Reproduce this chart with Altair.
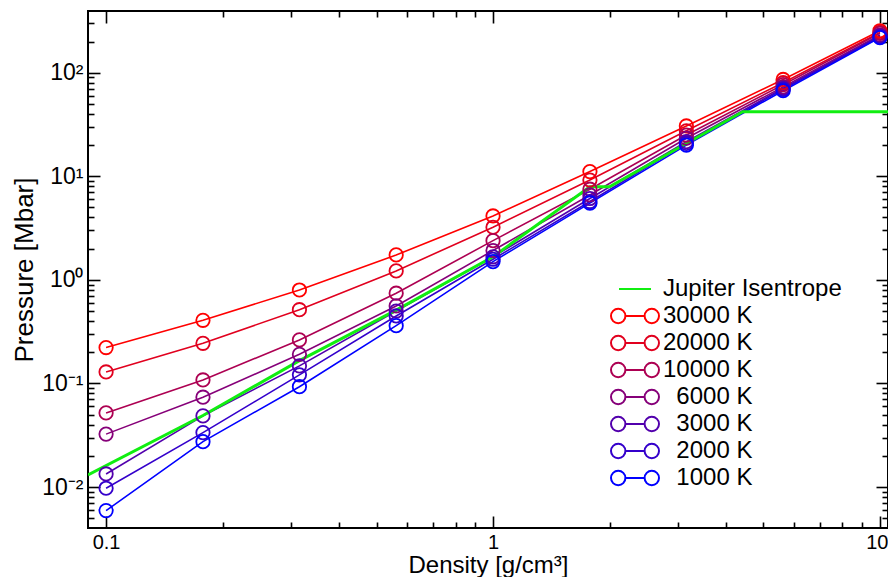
import altair as alt
import pandas as pd

FONT = "Liberation Sans"
W, H = 800, 517

# ---------------- data ----------------
PAD = "\u2060\u2007"  # invisible joiner + figure space keeps the 4-digit labels right-aligned
density = [0.1, 0.178, 0.316, 0.562, 1.0, 1.78, 3.16, 5.62, 10.0]
temps = ["30000 K", "20000 K", "10000 K", PAD + "6000 K", PAD + "3000 K", PAD + "2000 K", PAD + "1000 K"]
p_30000 = [0.222, 0.407, 0.798, 1.74, 4.14, 11.1, 30.6, 86, 254]
p_20000 = [0.129, 0.244, 0.515, 1.22, 3.22, 9.2, 27.5, 80, 245]
p_10000 = [0.0519, 0.108, 0.263, 0.743, 2.39, 7.5, 25, 76.6, 240]
p_6000 = [0.0324, 0.0736, 0.191, 0.56, 1.92, 6.6, 23.3, 73, 231]
p_3000 = [0.01337, 0.0486, 0.1476, 0.50, 1.67, 6.1, 21.6, 70.7, 226]
p_2000 = [0.00973, 0.0335, 0.121, 0.448, 1.58, 5.7, 20.8, 69, 221]
p_1000 = [0.00592, 0.0274, 0.093, 0.361, 1.50, 5.5, 20.0, 67, 218]
series_vals = [p_30000, p_20000, p_10000, p_6000, p_3000, p_2000, p_1000]
temp_colors = ["#ff0000", "#e1001e", "#ad0052", "#860079", "#5200ad", "#3400cb", "#0000ff"]

jup_name = "Jupiter Isentrope"
jup_density = [0.0898, 0.178, 0.316, 0.562, 1.0, 1.78, 2.0, 4.42, 10.49]
jup_pressure = [0.0131, 0.049, 0.166, 0.51, 1.67, 7.9, 7.9, 42, 42]
jup_color = "#11ee11"

x_domain = [0.0898, 10.49]
y_domain = [0.00402, 394]
x_major = [0.1, 1, 10]
y_major = [0.01, 0.1, 1, 10, 100]

x_ticks = [k * 10.0 ** e for e in range(-1, 2) for k in range(1, 10)
           if x_domain[0] <= k * 10.0 ** e <= x_domain[1]]
y_ticks = [k * 10.0 ** e for e in range(-3, 3) for k in range(1, 10)
           if y_domain[0] <= k * 10.0 ** e <= y_domain[1]]

rows = []
for name, vals in zip(temps, series_vals):
    for d, p in zip(density, vals):
        rows.append({"series": name, "density": d, "pressure": p})
for d, p in zip(jup_density, jup_pressure):
    rows.append({"series": jup_name, "density": d, "pressure": p})
df = pd.DataFrame(rows)

# ---------------- scales ----------------
xs = alt.Scale(type="log", domain=x_domain, nice=False)
ys = alt.Scale(type="log", domain=y_domain, nice=False)
series_domain = [jup_name] + temps
color_scale = alt.Scale(domain=series_domain, range=[jup_color] + temp_colors)

# legend glyphs: circle - line - circle (unit = sqrt(symbolSize)/2 = 8 px)
cc_path = ("M-3,0A0.9,0.9 0 1,0 -1.2,0A0.9,0.9 0 1,0 -3,0Z"
           "M-1.2,0L1.2,0"
           "M1.2,0A0.9,0.9 0 1,0 3,0A0.9,0.9 0 1,0 1.2,0Z")
line_path = "M-2,0L2,0"
shape_scale = alt.Scale(domain=series_domain, range=[line_path] + [cc_path] * len(temps))

major_test = "abs(log(datum.value)/LN10 - round(log(datum.value)/LN10)) < 0.01"


def tick_axis(orient, offset, values, major, minor):
    return alt.Axis(
        orient=orient, offset=offset, values=values, labels=False, domain=False,
        grid=False, title=None, tickColor="black", tickWidth=1.6,
        tickSize={"condition": {"test": major_test, "value": major}, "value": minor},
    )


ax_x_labels = alt.Axis(
    orient="bottom", values=x_major, format="~g", ticks=False, domain=False, grid=False,
    labelFont=FONT, labelFontSize=20, labelColor="black", labelPadding=4,
    labelFlush=10, labelFlushOffset=8,
    title="Density [g/cm\u00b3]", titleFont=FONT, titleFontSize=24,
    titleFontWeight="normal", titleColor="black", titlePadding=1,
)
ax_y_labels = alt.Axis(
    orient="left", values=y_major,
    labelExpr="['10\u207b\u00b2','10\u207b\u00b9','10\u2070','10\u00b9','10\u00b2'][round(log(datum.value)/LN10)+2]",
    ticks=False, domain=False, grid=False,
    labelFont=FONT, labelFontSize=23, labelColor="black", labelPadding=5,
    title="Pressure [Mbar]", titleFont=FONT, titleFontSize=26,
    titleFontWeight="normal", titleColor="black", titlePadding=4,
)

legend = alt.Legend(
    title=None, orient="none", legendX=535, legendY=266, padding=0,
    labelFont=FONT, labelFontSize=24, labelColor="black", labelOffset=16,
    labelLimit=400, symbolSize=256, symbolStrokeWidth=2, symbolOpacity=1,
    rowPadding=3,
)

base = alt.Chart(df)
not_jup = alt.datum.series != jup_name
is_jup = alt.datum.series == jup_name

lines = base.transform_filter(not_jup).mark_line(strokeWidth=1.6, clip=True).encode(
    x=alt.X("density:Q", scale=xs, axis=ax_x_labels),
    y=alt.Y("pressure:Q", scale=ys, axis=ax_y_labels),
    color=alt.Color("series:N", scale=color_scale, legend=None),
)

jup = base.transform_filter(is_jup).mark_line(strokeWidth=3, clip=True).encode(
    x=alt.X("density:Q", scale=xs, axis=tick_axis("top", -H, x_ticks, 12, 6)),
    y=alt.Y("pressure:Q", scale=ys, axis=tick_axis("right", -W, y_ticks, 12, 6)),
    color=alt.Color("series:N", scale=color_scale, legend=None),
)

points = base.transform_filter(not_jup).mark_point(
    filled=False, size=180, strokeWidth=1.8, opacity=1, clip=True
).encode(
    x=alt.X("density:Q", scale=xs, axis=tick_axis("bottom", -H, x_ticks, 12, 6)),
    y=alt.Y("pressure:Q", scale=ys, axis=tick_axis("left", -W, y_ticks, 12, 6)),
    color=alt.Color("series:N", scale=color_scale, legend=None),
)

legend_layer = base.mark_point(filled=False, opacity=0, clip=True).encode(
    x=alt.X("density:Q", scale=xs, axis=None),
    y=alt.Y("pressure:Q", scale=ys, axis=None),
    color=alt.Color("series:N", scale=color_scale, legend=legend),
    shape=alt.Shape("series:N", scale=shape_scale, legend=legend),
)

chart = alt.layer(lines, jup, points, legend_layer).resolve_axis(
    x="independent", y="independent"
).resolve_legend(
    color="independent", shape="independent"
).properties(
    width=W, height=H,
    autosize=alt.AutoSizeParams(type="none"),
    padding={"left": 80, "top": 3, "right": 0, "bottom": 49},
    background="white",
).configure_view(stroke="black", strokeWidth=2)

chart.save("out.html", embed_options={"renderer": "svg", "actions": False})
